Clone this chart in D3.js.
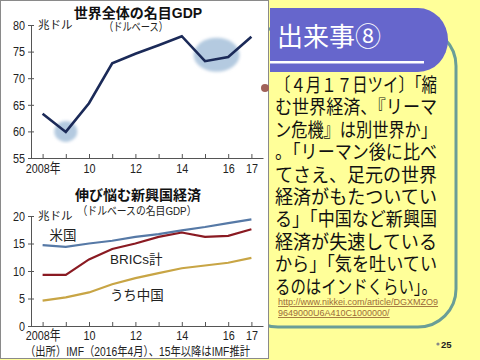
<!DOCTYPE html>
<html lang="ja"><head><meta charset="utf-8">
<script src="https://cdn.jsdelivr.net/npm/d3@7"></script>
<style>body{margin:0;background:#FFFF99;} svg{display:block}</style>
</head><body>
<svg id="c" width="480" height="360" lang="ja"></svg>
<script>
// ---- data ----
const years = [2008,2009,2010,2011,2012,2013,2014,2015,2016,2017];
const worldGDP = [63.3,59.9,65.3,72.8,74.6,76.2,77.9,73.2,74.0,77.8];
const usGDP = [14.7,14.4,15.0,15.5,16.2,16.7,17.4,18.0,18.7,19.4];
const bricsGDP = [9.3,9.3,12.1,14.0,15.0,16.2,17.0,16.2,16.4,17.6];
const chinaGDP = [4.6,5.2,6.1,7.6,8.7,9.6,10.5,11.0,11.5,12.4];
const xLabelYears = [2008,2010,2012,2014,2016,2017];
const xLabels = ["2008年","10","12","14","16","17"];
const topTicks = [55,60,65,70,75,80];
const bottomTicks = [0,5,10,15,20];
const highlightYears = [2009, 2015.5];
const highlightValues = [60, 74.4];
const seriesNames = ["米国","BRICs計","うち中国"];
const topTitle = "世界全体の名目GDP";
const topSub = "（ドルベース）";
const botTitle = "伸び悩む新興国経済";
const botSub = "（ドルベースの名目GDP）";
const unitLabel = "兆ドル";
const sourceText = "（出所）IMF（2016年4月）、15年以降はIMF推計";
const heading = "出来事⑧";
const noteLines = ["〔４月１７日ツイ〕「縮","む世界経済、『リーマ","ン危機』は別世界か」","。「リーマン後に比べ","てさえ、足元の世界","経済がもたついてい","る」「中国など新興国","経済が失速している","から」「気を吐いてい","るのはインドくらい」。"];
const urlLines = ["http://www.nikkei.com/article/DGXMZO9","9649000U6A410C1000000/"];
const pageNum = "25";

// ---- drawing ----
const svg = d3.select("#c");
const JP = "'Liberation Sans','Noto Sans CJK JP',sans-serif";
const NUM = "'Liberation Sans','Noto Sans CJK JP',sans-serif";

svg.append("rect").attr("width",480).attr("height",360).attr("fill","#FFFF99");

// teal rounded box
svg.append("rect").attr("x",240).attr("y",28).attr("width",216).attr("height",299)
  .attr("rx",38).attr("ry",38).attr("fill","#FFFF99").attr("stroke","#6A9E97").attr("stroke-width",3);

// purple header
svg.append("path").attr("d","M270,8 H418 A30,32 0 0 1 448,40 A30,32 0 0 1 418,72 H270 Z").attr("fill","#6666CC");
svg.append("rect").attr("x",270).attr("y",61).attr("width",154).attr("height",2.5).attr("fill","#ffffff");
svg.append("text").attr("x",277).attr("y",46).attr("fill","#fff")
  .style("font-family",JP).style("font-size","26px").text(heading);

// white panel
svg.append("rect").attr("x",0.5).attr("y",0.5).attr("width",268).attr("height",358)
  .attr("fill","#ffffff").attr("stroke","#8a8a8a").attr("stroke-width",1);

const x = d3.scaleLinear().domain([2007.5,2017.5]).range([31,263]);
const yTop = d3.scaleLinear().domain([55,80]).range([158,25]);
const yBot = d3.scaleLinear().domain([0,20]).range([326,216]);

const defs = svg.append("defs");
defs.append("filter").attr("id","blur").append("feGaussianBlur").attr("stdDeviation",1.6);

function drawAxes(y, ticks, pad){
  const g = svg.append("g");
  const ya = g.append("g").attr("transform",`translate(${x.range()[0]},0)`)
    .call(d3.axisLeft(y).tickValues(ticks).tickSize(3).tickSizeOuter(0).tickPadding(4));
  ya.select(".domain").attr("stroke","#555");
  ya.selectAll(".tick line").attr("stroke","#555").attr("x2",-3).attr("x1",3);
  ya.selectAll(".tick text").style("font-family",NUM).style("font-size","13.5px").attr("fill","#222")
    .attr("x",0).attr("transform","translate(-6,0) scale(0.8,1)");
  const xa = g.append("g").attr("transform",`translate(0,${y.range()[0]})`)
    .call(d3.axisBottom(x).tickValues(years).tickSize(-4).tickSizeOuter(0)
      .tickFormat(d=>{const i=xLabelYears.indexOf(d);return i<0?"":xLabels[i];}).tickPadding(pad));
  xa.select(".domain").attr("stroke","#555");
  xa.selectAll(".tick line").attr("stroke","#555");
  xa.selectAll(".tick text").filter(d=>xLabelYears.indexOf(d)<0).remove();
  xa.selectAll(".tick text").style("font-family",NUM).style("font-size","13.5px").attr("fill","#222")
    .each(function(){const t=d3.select(this);const yy=t.attr("y");t.attr("y",0).attr("transform",`translate(0,${yy}) scale(0.8,1)`);});
  return g;
}

// ---- top chart ----
svg.append("g").selectAll("ellipse").data(highlightYears).join("ellipse")
  .attr("cx",(d,i)=>x(d)).attr("cy",(d,i)=>yTop(highlightValues[i]))
  .attr("rx",(d,i)=>i===0?11.5:23).attr("ry",(d,i)=>i===0?10.5:17)
  .attr("fill","#B4CAE0").attr("filter","url(#blur)");
drawAxes(yTop, topTicks, 5.5);
svg.append("path").datum(worldGDP)
  .attr("d",d3.line().x((d,i)=>x(years[i])).y(d=>yTop(d)))
  .attr("fill","none").attr("stroke","#1B2A58").attr("stroke-width",2.6).attr("stroke-linejoin","miter");
svg.append("text").attr("x",138).attr("y",17.5).attr("text-anchor","middle")
  .style("font-family",JP).style("font-size","14px").style("font-weight","bold").attr("fill","#111").text(topTitle);
svg.append("text").attr("x",136).attr("y",31).attr("text-anchor","middle")
  .style("font-family",JP).style("font-size","11.5px").attr("fill","#222")
  .attr("textLength",64).attr("lengthAdjust","spacingAndGlyphs").text(topSub);
svg.append("text").attr("x",38).attr("y",yTop(80)+4).style("font-family",JP).style("font-size","11.5px").attr("fill","#222").text(unitLabel);

// ---- bottom chart ----
drawAxes(yBot, bottomTicks, 4);
const seriesData = [usGDP, bricsGDP, chinaGDP];
const seriesColors = ["#5679A6","#8A1A22","#C8A545"];
svg.append("g").selectAll("path").data(seriesData).join("path")
  .attr("d",d=>d3.line().x((v,i)=>x(years[i])).y(v=>yBot(v))(d))
  .attr("fill","none").attr("stroke",(d,i)=>seriesColors[i]).attr("stroke-width",2.2);
svg.append("text").attr("x",138).attr("y",200).attr("text-anchor","middle")
  .style("font-family",JP).style("font-size","14px").style("font-weight","bold").attr("fill","#111").text(botTitle);
svg.append("text").attr("x",137).attr("y",215).attr("text-anchor","middle")
  .style("font-family",JP).style("font-size","11.5px").attr("fill","#222")
  .attr("textLength",119).attr("lengthAdjust","spacingAndGlyphs").text(botSub);
svg.append("text").attr("x",38).attr("y",yBot(20)+4).style("font-family",JP).style("font-size","11.5px").attr("fill","#222").text(unitLabel);
const labelPos = [[2008.3,16.5],[2010.9,12.1],[2010.9,5.6]];
svg.append("g").selectAll("text").data(seriesNames).join("text")
  .attr("x",(d,i)=>x(labelPos[i][0])).attr("y",(d,i)=>yBot(labelPos[i][1])+5)
  .style("font-family",JP).style("font-size","13.5px").attr("fill","#222").text(d=>d);
svg.append("text").attr("x",25).attr("y",356)
  .style("font-family",JP).style("font-size","12.5px").attr("fill","#222")
  .attr("textLength",225).attr("lengthAdjust","spacingAndGlyphs").text(sourceText);

// ---- right text ----
svg.append("circle").attr("cx",265).attr("cy",88).attr("r",4).attr("fill","#A0625A");
svg.append("g").selectAll("text").data(noteLines).join("text")
  .attr("x",275).attr("y",(d,i)=>92+i*22.4)
  .style("font-family",JP).style("font-size","19px").attr("fill","#111")
  .attr("textLength",162).attr("lengthAdjust","spacingAndGlyphs").text(d=>d);
svg.append("g").selectAll("text").data(urlLines).join("text")
  .attr("x",278).attr("y",(d,i)=>305+i*11)
  .style("font-family","'Liberation Sans',Arial,sans-serif").style("font-size","9px")
  .style("text-decoration","underline").attr("fill","#9C6B3A").text(d=>d);
svg.append("circle").attr("cx",438).attr("cy",344).attr("r",1.6).attr("fill","#888");
svg.append("text").attr("x",441).attr("y",347.5)
  .style("font-family","'Liberation Sans',Arial,sans-serif").style("font-size","9.5px").style("font-weight","bold").attr("fill","#222").text(pageNum);
</script>
</body></html>
